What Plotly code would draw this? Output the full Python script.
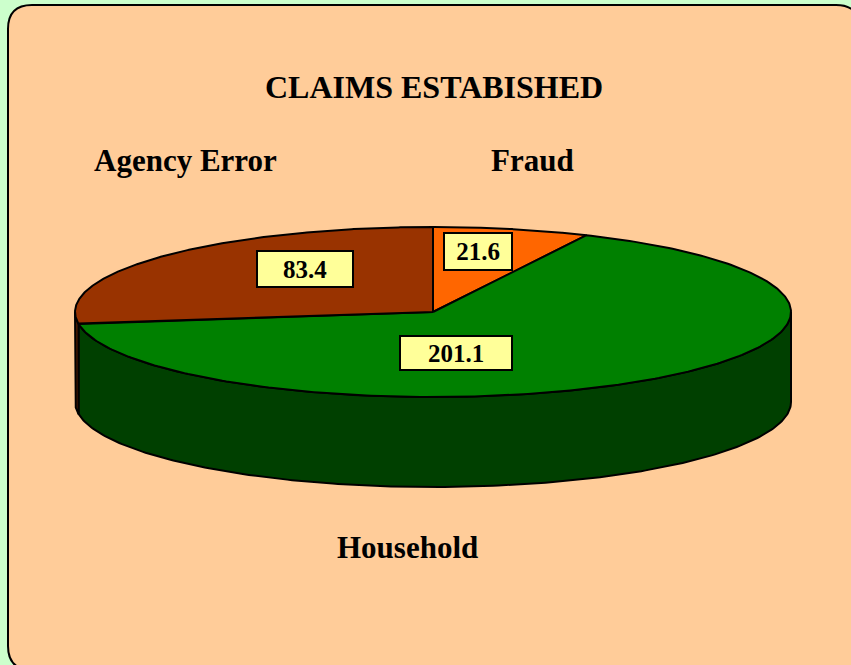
import numpy as np
import plotly.graph_objects as go

# ---- data ----
labels = ["Fraud", "Household", "Agency Error"]
values = [21.6, 201.1, 83.4]
value_text = ["21.6", "201.1", "83.4"]
title_text = "CLAIMS ESTABISHED"

# ---- styles ----
top_colors = ["#FF6600", "#008000", "#993300"]
side_colors = ["#803300", "#004000", "#4D1A00"]
FONT = "Liberation Serif, Times New Roman, serif"

# geometry of the 3-D pie (pixel space)
CX, CY, RX, RY, DEPTH = 433, 312, 358, 85, 90
W, H = 851, 665


def pt(t_deg, dy=0.0):
    t = np.radians(t_deg)
    return CX + RX * np.sin(t), CY - RY * np.cos(t) + dy


total = sum(values)
bounds = np.concatenate([[0], np.cumsum(values) / total * 360.0])

fig = go.Figure()

# side walls (visible front half: 90..270 degrees)
for i in range(len(values)):
    a, b = max(bounds[i], 90), min(bounds[i + 1], 270)
    if b <= a:
        continue
    ts = np.linspace(a, b, 200)
    xt, yt = pt(ts)
    xb, yb = pt(ts[::-1], DEPTH)
    xs = np.concatenate([xt, xb, xt[:1]])
    ys = np.concatenate([yt, yb, yt[:1]])
    fig.add_trace(go.Scatter(x=xs, y=ys, mode="lines", fill="toself",
                             fillcolor=side_colors[i],
                             line=dict(color="black", width=2),
                             hoverinfo="skip", showlegend=False))

# top faces
for i in range(len(values)):
    ts = np.linspace(bounds[i], bounds[i + 1], 300)
    xa, ya = pt(ts)
    xs = np.concatenate([[CX], xa, [CX]])
    ys = np.concatenate([[CY], ya, [CY]])
    fig.add_trace(go.Scatter(x=xs, y=ys, mode="lines", fill="toself",
                             fillcolor=top_colors[i],
                             line=dict(color="black", width=2),
                             hoverinfo="skip", showlegend=False))

# rounded background panel
x0, y0, x1, y1, r = 8, 5, 860, 670, 24
panel = (f"M {x0+r},{y0} L {x1-r},{y0} Q {x1},{y0} {x1},{y0+r} "
         f"L {x1},{y1-r} Q {x1},{y1} {x1-r},{y1} L {x0+r},{y1} "
         f"Q {x0},{y1} {x0},{y1-r} L {x0},{y0+r} Q {x0},{y0} {x0+r},{y0} Z")
fig.add_shape(type="path", path=panel, xref="x", yref="y", layer="below",
              fillcolor="#FFCC99", line=dict(color="black", width=2))

# category labels
cat_pos = {"Fraud": (532, 160), "Household": (407, 547), "Agency Error": (185, 160)}
for lab in labels:
    x, y = cat_pos[lab]
    fig.add_annotation(x=x, y=y, text=lab, showarrow=False, xanchor="center",
                       yanchor="middle",
                       font=dict(family=FONT, size=31, color="black", weight="bold"))

# title
fig.add_annotation(x=434, y=87, text=title_text, showarrow=False, xanchor="center",
                   yanchor="middle",
                   font=dict(family=FONT, size=32, color="black", weight="bold"))

# value boxes
box_pos = [(478, 251), (456, 353), (305, 269)]
box_size = [(66, 35), (110, 32), (94, 34)]
for i in range(len(values)):
    x, y = box_pos[i]
    w, h = box_size[i]
    fig.add_annotation(x=x, y=y, text=value_text[i], showarrow=False,
                       xanchor="center", yanchor="middle", width=w, height=h,
                       bgcolor="#FFFF99", bordercolor="black", borderwidth=2,
                       borderpad=0,
                       font=dict(family=FONT, size=25, color="black", weight="bold"))

fig.update_layout(
    width=W, height=H, autosize=False,
    margin=dict(l=0, r=0, t=0, b=0),
    paper_bgcolor="#CCFFCC", plot_bgcolor="rgba(0,0,0,0)",
    xaxis=dict(range=[0, W], visible=False, fixedrange=True),
    yaxis=dict(range=[H, 0], visible=False, fixedrange=True),
    showlegend=False,
)

fig.write_html(
    "out.html",
    config={"displayModeBar": False, "staticPlot": True},
    post_script="document.body.style.margin='0px';"
                "document.body.style.background='#CCFFCC';"
                "document.body.style.overflow='hidden';",
)
